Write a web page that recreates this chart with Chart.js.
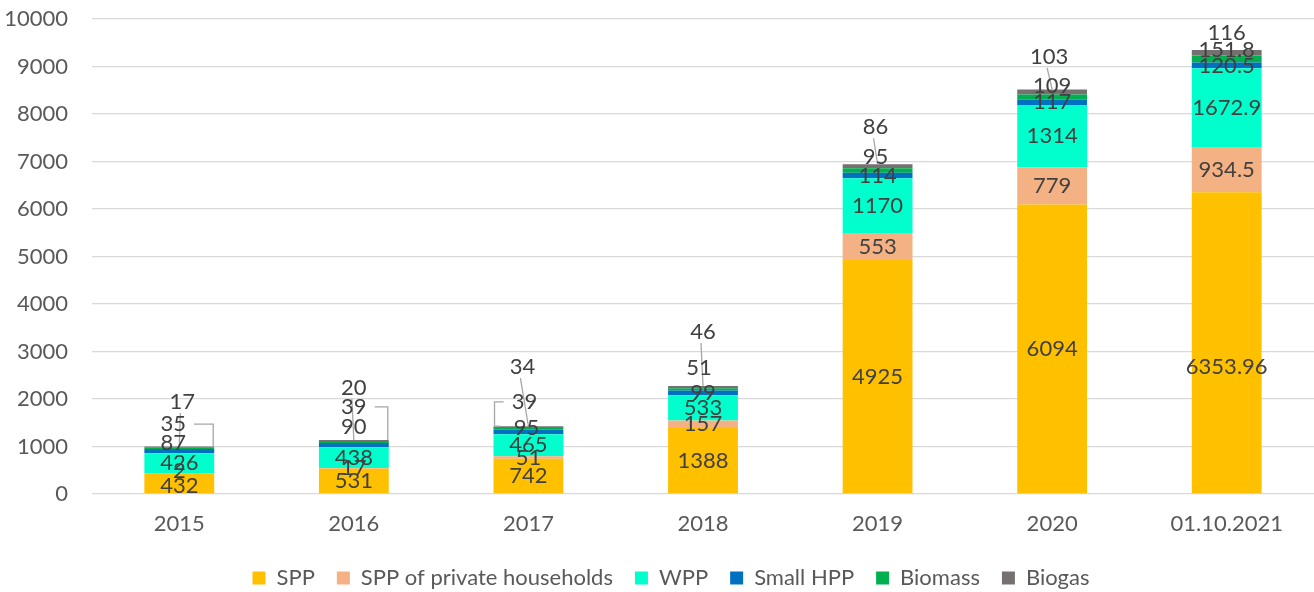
<!DOCTYPE html>
<html>
<head>
<meta charset="utf-8">
<script src="https://cdn.jsdelivr.net/npm/chart.js@4.4.1/dist/chart.umd.min.js"></script>
<style>
  html, body { margin: 0; padding: 0; background: #fff; }
  #wrap { width: 1314px; height: 592px; }
</style>
</head>
<body>
<div id="wrap"><canvas id="chart"></canvas></div>
<script>
// --- данные ---
const years = ['2015', '2016', '2017', '2018', '2019', '2020', '01.10.2021'];
const spp = [432, 531, 742, 1388, 4925, 6094, 6353.96];
const sppHouseholds = [2, 17, 51, 157, 553, 779, 934.5];
const wpp = [426, 438, 465, 533, 1170, 1314, 1672.9];
const smallHpp = [87, 90, 95, 99, 114, 117, 120.5];
const biomass = [35, 39, 39, 51, 95, 109, 151.8];
const biogas = [17, 20, 34, 46, 86, 103, 116];
const yTicks = [0, 1000, 2000, 3000, 4000, 5000, 6000, 7000, 8000, 9000, 10000];

const FONT = 'Lato';
const FSIZE = 22;

// сдвиги подписей (px) относительно центра сегмента, как в Excel вручную
const labelShift = [
    [[0, 2], [0, 0], [0, 0], [0, 0], [0, 0], [0, 0], [0, 24]],
    [[0, -3], [0, 0], [0, 0], [0, 0], [0, 0], [0, 0], [0, 0]],
    [[0, 0], [0, 0], [0, 0], [0, 0], [0, 0], [0, 0], [0, 0]],
    [[-6, -8], [0, -18], [-2, -4], [0, 0], [0, 0], [0, 0], [0, 0]],
    [[-6, -24], [0, -35], [-4, -27], [-4, -21], [-2, -14], [0, -11], [0, -9]],
    [[3, -45], [0, -53], [-6, -60], [0, -55], [-2, -39], [-3, -35], [0, -20]]
];
// выноски: dataset, индекс категории, тип
const leaders = [
    { ds: 5, idx: 0, kind: 'line' },
    { ds: 5, idx: 1, kind: 'line' },
    { ds: 5, idx: 2, kind: 'line' },
    { ds: 5, idx: 3, kind: 'line' },
    { ds: 5, idx: 4, kind: 'line' },
    { ds: 5, idx: 5, kind: 'line' },
    { ds: 4, idx: 0, kind: 'right' },
    { ds: 4, idx: 1, kind: 'right' },
    { ds: 4, idx: 2, kind: 'left' }
];

const segmentLabels = {
    id: 'segmentLabels',
    afterLayout(chart) {
        // легенда в оригинале чуть правее центра
        if (chart.legend) {
            chart.legend.left += 14;
            chart.legend.right += 14;
        }
    },
    afterDatasetsDraw(chart) {
        const ctx = chart.ctx;
        ctx.save();
        ctx.font = `${FSIZE}px ${FONT}`;
        ctx.textAlign = 'center';
        ctx.textBaseline = 'middle';
        const pos = chart.data.datasets.map((ds, i) => {
            const meta = chart.getDatasetMeta(i);
            return meta.data.map((el, j) => {
                const sh = labelShift[i][j];
                return {
                    x: el.x + sh[0],
                    y: (el.y + el.base) / 2 + sh[1],
                    el: el,
                    text: String(ds.data[j]),
                };
            });
        });
        // выноски
        ctx.strokeStyle = '#a6a6a6';
        ctx.lineWidth = 1.3;
        leaders.forEach(l => {
            const p = pos[l.ds][l.idx];
            const barTop = pos[5][l.idx].el.y;
            const halfW = ctx.measureText(p.text).width / 2;
            const halfBar = p.el.width / 2;
            ctx.beginPath();
            if (l.kind === 'line') {
                ctx.moveTo(p.x - 2, p.y + 11);
                ctx.lineTo(p.el.x, barTop);
            } else if (l.kind === 'right') {
                ctx.moveTo(p.x + halfW + 8, p.y);
                ctx.lineTo(p.el.x + halfBar - 1, p.y);
                ctx.lineTo(p.el.x + halfBar - 1, barTop);
            } else {
                ctx.moveTo(p.x - halfW - 8, p.y);
                ctx.lineTo(p.el.x - halfBar + 1, p.y);
                ctx.lineTo(p.el.x - halfBar + 1, barTop);
                ctx.lineTo(p.el.x - halfBar + 6, barTop);
            }
            ctx.stroke();
        });
        ctx.fillStyle = '#404040';
        pos.forEach(list => list.forEach(p => ctx.fillText(p.text, p.x, p.y)));
        ctx.restore();
    }
};

function makeSet(label, data, color) {
    return {
        label: label,
        data: data,
        backgroundColor: color,
        borderWidth: 0,
        barPercentage: 0.4,
        categoryPercentage: 1.0
    };
}

new Chart(document.getElementById('chart'), {
    type: 'bar',
    data: {
        labels: years,
        datasets: [
            makeSet('SPP', spp, '#FFC000'),
            makeSet('SPP of private households', sppHouseholds, '#F4B183'),
            makeSet('WPP', wpp, '#00FFCC'),
            makeSet('Small HPP', smallHpp, '#0070C0'),
            makeSet('Biomass', biomass, '#00B050'),
            makeSet('Biogas', biogas, '#767171')
        ]
    },
    options: {
        responsive: true,
        maintainAspectRatio: false,
        animation: false,
        layout: { padding: { top: 19, right: 0, left: 0, bottom: -7 } },
        plugins: {
            tooltip: { enabled: false },
            legend: {
                position: 'bottom',
                labels: {
                    boxWidth: 13,
                    boxHeight: 13,
                    padding: 22,
                    color: '#595959',
                    font: { family: FONT, size: FSIZE }
                }
            }
        },
        scales: {
            x: {
                stacked: true,
                grid: { display: false, drawTicks: false },
                border: { display: false },
                ticks: { color: '#595959', padding: 17, font: { family: FONT, size: FSIZE } },
                afterFit(scale) { scale.height = 51; }
            },
            y: {
                stacked: true,
                min: 0,
                max: 10000,
                afterBuildTicks(scale) { scale.ticks = yTicks.map(v => ({ value: v })); },
                grid: { color: '#d9d9d9', lineWidth: 1.3, drawTicks: true, tickLength: 24, tickColor: 'rgba(0,0,0,0)' },
                border: { display: false },
                ticks: {
                    color: '#595959',
                    padding: 0,
                    font: { family: FONT, size: FSIZE },
                    callback: v => String(v)
                },
                afterFit(scale) { scale.width = 92; }
            }
        }
    },
    plugins: [segmentLabels]
});
</script>
</body>
</html>
